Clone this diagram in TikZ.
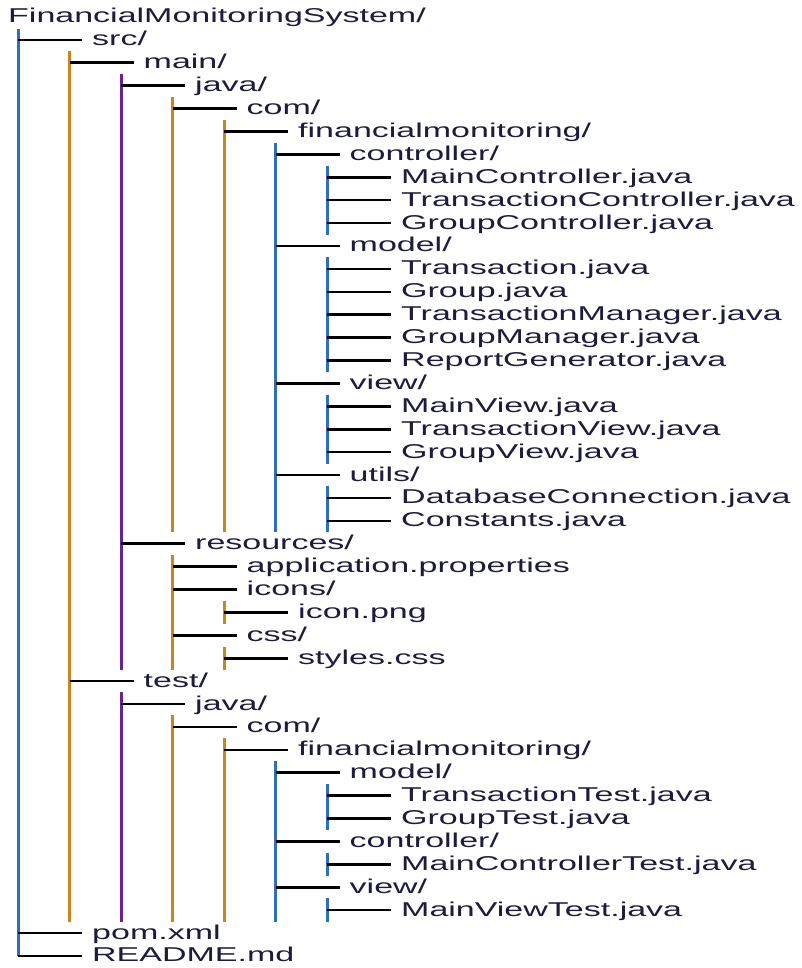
\documentclass[tikz,border=0pt]{standalone}
\usepackage{fontspec}
\setmainfont{Liberation Sans}[FakeStretch=1.7]
\usepackage{xcolor}

\definecolor{lineblue}{HTML}{2F6FB8}
\definecolor{lineorange}{HTML}{C8861C}
\definecolor{linepurple}{HTML}{6B2390}
\definecolor{textnavy}{HTML}{1E1C3C}

\tikzset{
  file/.style={anchor=west, inner xsep=10pt, inner ysep=3.45pt,
    text height=14pt, text depth=2pt, text=textnavy,
    font=\fontsize{20}{23}\selectfont},
  item/.style={file, xshift=64pt},
  trunk/.style={line width=3pt},
  branch/.style={line width=2.6pt, black}
}

\begin{document}
\begin{tikzpicture}[x=51.5pt, y=-22.9pt]
\useasboundingbox [fill=white] (-18pt,17pt) rectangle (784pt,-951pt);

% columns of the tree
\coordinate (c0) at (0,0);
\coordinate (c1) at (1,0);
\coordinate (c2) at (2,0);
\coordinate (c3) at (3,0);
\coordinate (c4) at (4,0);
\coordinate (c5) at (5,0);
\coordinate (c6) at (6,0);

\node [file] (root) at (-20pt,0) {FinancialMonitoringSystem/};
\node [item] (src) at (0,1) {src/};
\node [item] (main) at (1,2) {main/};
\node [item] (mjava) at (2,3) {java/};
\node [item] (mcom) at (3,4) {com/};
\node [item] (mfin) at (4,5) {financialmonitoring/};
\node [item] (ctrl) at (5,6) {controller/};
\node [item] (mainctrl) at (6,7) {MainController.java};
\node [item] (transctrl) at (6,8) {TransactionController.java};
\node [item] (groupctrl) at (6,9) {GroupController.java};
\node [item] (model) at (5,10) {model/};
\node [item] (trans) at (6,11) {Transaction.java};
\node [item] (group) at (6,12) {Group.java};
\node [item] (transmgr) at (6,13) {TransactionManager.java};
\node [item] (groupmgr) at (6,14) {GroupManager.java};
\node [item] (report) at (6,15) {ReportGenerator.java};
\node [item] (view) at (5,16) {view/};
\node [item] (mainview) at (6,17) {MainView.java};
\node [item] (transview) at (6,18) {TransactionView.java};
\node [item] (groupview) at (6,19) {GroupView.java};
\node [item] (utils) at (5,20) {utils/};
\node [item] (dbconn) at (6,21) {DatabaseConnection.java};
\node [item] (consts) at (6,22) {Constants.java};
\node [item] (res) at (2,23) {resources/};
\node [item] (appprops) at (3,24) {application.properties};
\node [item] (icons) at (3,25) {icons/};
\node [item] (iconpng) at (4,26) {icon.png};
\node [item] (css) at (3,27) {css/};
\node [item] (styles) at (4,28) {styles.css};
\node [item] (test) at (1,29) {test/};
\node [item] (tjava) at (2,30) {java/};
\node [item] (tcom) at (3,31) {com/};
\node [item] (tfin) at (4,32) {financialmonitoring/};
\node [item] (tmodel) at (5,33) {model/};
\node [item] (transtest) at (6,34) {TransactionTest.java};
\node [item] (grouptest) at (6,35) {GroupTest.java};
\node [item] (tctrl) at (5,36) {controller/};
\node [item] (mainctrltest) at (6,37) {MainControllerTest.java};
\node [item] (tview) at (5,38) {view/};
\node [item] (mainviewtest) at (6,39) {MainViewTest.java};
\node [item] (pom) at (0,40) {pom.xml};
\node [item, text height=12pt, text depth=0pt, inner ysep=0pt] (readme) at (0,41) {README.md};

% vertical lines
\draw [trunk, lineblue] (c0 |- root.south) -- (c0 |- readme);
\draw [trunk, lineorange] (c1 |- main.north) -- (c1 |- mainviewtest.south);
\draw [trunk, linepurple] (c2 |- mjava.north) -- (c2 |- styles.south)
  (c2 |- tjava.north) -- (c2 |- mainviewtest.south);
\draw [trunk, lineorange] (c3 |- mcom.north) -- (c3 |- consts.south)
  (c3 |- appprops.north) -- (c3 |- styles.south)
  (c3 |- tcom.north) -- (c3 |- mainviewtest.south);
\draw [trunk, lineorange] (c4 |- mfin.north) -- (c4 |- consts.south)
  (c4 |- iconpng.north) -- (c4 |- iconpng.south)
  (c4 |- styles.north) -- (c4 |- styles.south)
  (c4 |- tfin.north) -- (c4 |- mainviewtest.south);
\draw [trunk, lineblue] (c5 |- ctrl.north) -- (c5 |- consts.south)
  (c5 |- tmodel.north) -- (c5 |- mainviewtest.south);
\draw [trunk, lineblue] (c6 |- mainctrl.north) -- (c6 |- groupctrl.south)
  (c6 |- trans.north) -- (c6 |- report.south)
  (c6 |- mainview.north) -- (c6 |- groupview.south)
  (c6 |- dbconn.north) -- (c6 |- consts.south)
  (c6 |- transtest.north) -- (c6 |- grouptest.south)
  (c6 |- mainctrltest.north) -- (c6 |- mainctrltest.south)
  (c6 |- mainviewtest.north) -- (c6 |- mainviewtest.south);

% branches
\draw [branch] (c0 |- src) -- (src) (c0 |- pom) -- (pom) (c0 |- readme) -- (readme);
\draw [branch] (c1 |- main) -- (main) (c1 |- test) -- (test);
\draw [branch] (c2 |- mjava) -- (mjava) (c2 |- res) -- (res) (c2 |- tjava) -- (tjava);
\draw [branch] (c3 |- mcom) -- (mcom) (c3 |- appprops) -- (appprops)
  (c3 |- icons) -- (icons) (c3 |- css) -- (css) (c3 |- tcom) -- (tcom);
\draw [branch] (c4 |- mfin) -- (mfin) (c4 |- iconpng) -- (iconpng)
  (c4 |- styles) -- (styles) (c4 |- tfin) -- (tfin);
\draw [branch] (c5 |- ctrl) -- (ctrl) (c5 |- model) -- (model) (c5 |- view) -- (view)
  (c5 |- utils) -- (utils) (c5 |- tmodel) -- (tmodel) (c5 |- tctrl) -- (tctrl)
  (c5 |- tview) -- (tview);
\draw [branch] (c6 |- mainctrl) -- (mainctrl) (c6 |- transctrl) -- (transctrl)
  (c6 |- groupctrl) -- (groupctrl) (c6 |- trans) -- (trans) (c6 |- group) -- (group)
  (c6 |- transmgr) -- (transmgr) (c6 |- groupmgr) -- (groupmgr)
  (c6 |- report) -- (report) (c6 |- mainview) -- (mainview)
  (c6 |- transview) -- (transview) (c6 |- groupview) -- (groupview)
  (c6 |- dbconn) -- (dbconn) (c6 |- consts) -- (consts)
  (c6 |- transtest) -- (transtest) (c6 |- grouptest) -- (grouptest)
  (c6 |- mainctrltest) -- (mainctrltest) (c6 |- mainviewtest) -- (mainviewtest);
\end{tikzpicture}
\end{document}
